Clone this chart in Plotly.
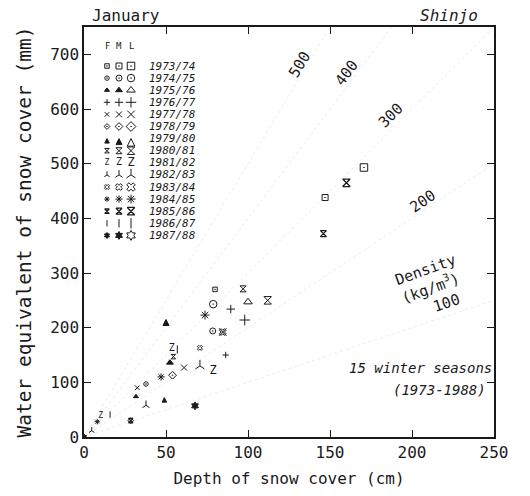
import plotly.graph_objects as go

# Snow survey at Shinjo, January: depth vs. water equivalent for the
# first (F), middle (M) and last (L) survey of each winter season.
seasons = ["1973/74", "1974/75", "1975/76", "1976/77", "1977/78",
           "1978/79", "1979/80", "1980/81", "1981/82", "1982/83",
           "1983/84", "1984/85", "1985/86", "1986/87", "1987/88"]

depth_F = [79.9, 37.8, 31.7, 86.4, 32.5, 28.5, 49.0, 54.5, 10.2, 4.7, 70.7, 8.1, 28.5, 15.9, 0.0]
swe_F = [270, 97, 74, 150, 90, 30, 72, 147, 38, 11.5, 163, 28, 30, 41, 0]
depth_M = [147.0, 78.5, 52.4, 89.5, 61.0, 54.0, 50.0, 97.0, 53.5, 37.8, 84.6, 47.0, 146.0, 56.9, 67.7]
swe_M = [438, 194, 136, 234, 127, 113, 215, 271, 162, 58, 192, 110, 372, 160, 57]
depth_L = [170.7, 78.8, 100.0, 98.0, 84.6, None, None, 112.0, 78.8, 70.7, None, 73.8, 160.0, None, None]
swe_L = [493, 243, 247, 214, 192, None, None, 250, 120, 130, None, 223, 465, None, None]

# marker shape for each season: (F and M, L), and stroke weight
symbols = [("square-open-dot", "square-open-dot"),
           ("circle-open-dot", "circle-open-dot"),
           ("triangle-up", "triangle-up-open"),
           ("cross-thin-open", "cross-thin-open"),
           ("x-thin-open", "x-thin-open"),
           ("diamond-open-dot", "diamond-open-dot"),
           ("arrow-up", "arrow-up-open"),
           ("hourglass-open", "hourglass-open"),
           ("Z", "Z"),
           ("y-up-open", "y-up-open"),
           ("x-open", "x-open"),
           ("asterisk-open", "asterisk-open"),
           ("hourglass-open", "hourglass-open"),
           ("line-ns-open", "line-ns-open"),
           ("hexagram", "hexagram-open")]
strokes = [1, 1, 1, 1, 1, 1, 1, 1, 1, 1, 1, 1, 1.25, 1, 1]

densities = [100, 200, 300, 400, 500]
density_angles = [-18.5, -33.7, -45, -53, -59]
density_label_pos = [(221, 245), (206.7, 432), (186.6, 588), (160, 666), (131.7, 682)]

x_range = [0, 250]
y_range = [0, 750]
sizes = [4.5, 6, 7.5]
text_sizes = [8, 10, 12]

FONT = "DejaVu Sans Mono"
INK = "#1a1a1a"

fig = go.Figure()

# faint lines of constant bulk density: swe(mm) = density * depth(cm) / 100
for d in densities:
    xe = min(x_range[1], y_range[1] * 100 / d)
    fig.add_trace(go.Scatter(x=[0, xe], y=[0, xe * d / 100], mode="lines",
                             line=dict(color="#eeeeee", width=1, dash="dot"),
                             hoverinfo="skip", showlegend=False))


def add_marks(xs, ys, sym, k, lw=1, xaxis="x", yaxis="y"):
    pts = [(x, y) for x, y in zip(xs, ys) if x is not None]
    if not pts:
        return
    px, py = zip(*pts)
    if sym == "Z":
        fig.add_trace(go.Scatter(x=px, y=py, mode="text", text=["Z"] * len(px),
                                 textfont=dict(family=FONT, size=text_sizes[k], color=INK),
                                 xaxis=xaxis, yaxis=yaxis, showlegend=False))
    else:
        fig.add_trace(go.Scatter(x=px, y=py, mode="markers",
                                 marker=dict(symbol=sym, size=sizes[k], color=INK,
                                             line=dict(color=INK, width=lw)),
                                 xaxis=xaxis, yaxis=yaxis, showlegend=False))


for i, (sym, sym_l) in enumerate(symbols):
    add_marks([depth_F[i]], [swe_F[i]], sym, 0, strokes[i])
    add_marks([depth_M[i]], [swe_M[i]], sym, 1, strokes[i])
    add_marks([depth_L[i]], [swe_L[i]], sym_l, 2, strokes[i])

# key in the upper-left corner, drawn on an overlay axis in pixel units
key_cols = [107, 119, 131]
key_row0, key_dy = 66, 12.1
for i, (sym, sym_l) in enumerate(symbols):
    yy = key_row0 + i * key_dy
    for k, xx in enumerate(key_cols):
        add_marks([xx], [yy], sym_l if k == 2 else sym, k, strokes[i],
                  xaxis="x2", yaxis="y2")
    fig.add_annotation(x=147, y=yy, xref="x2", yref="y2", text="<i>%s</i>" % seasons[i],
                       showarrow=False, xanchor="left",
                       font=dict(family=FONT, size=11, color=INK))
for k, lab in enumerate(["F", "M", "L"]):
    fig.add_annotation(x=key_cols[k], y=46, xref="x2", yref="y2", text=lab,
                       showarrow=False, font=dict(family=FONT, size=9, color=INK))

# density labels along the lines
for d, ang, (lx, ly) in zip(densities, density_angles, density_label_pos):
    fig.add_annotation(x=lx, y=ly, text=str(d), showarrow=False, textangle=ang,
                       font=dict(family=FONT, size=15, color=INK))
fig.add_annotation(x=208, y=305, text="Density", showarrow=False, textangle=-20,
                   font=dict(family=FONT, size=15, color=INK))
fig.add_annotation(x=211.5, y=274, text="(kg/m<sup>3</sup>)", showarrow=False, textangle=-20,
                   font=dict(family=FONT, size=15, color=INK))

fig.add_annotation(x=1.0, y=0.145, xref="paper", yref="paper", xanchor="right",
                   text="<i>15 winter seasons</i>", showarrow=False,
                   font=dict(family=FONT, size=14, color=INK))
fig.add_annotation(x=0.985, y=0.09, xref="paper", yref="paper", xanchor="right",
                   text="<i>(1973-1988)</i>", showarrow=False,
                   font=dict(family=FONT, size=14, color=INK))

fig.add_annotation(x=0.015, y=1.0, xref="paper", yref="paper", yanchor="bottom",
                   xanchor="left", text="January", showarrow=False,
                   font=dict(family=FONT, size=16, color=INK))
fig.add_annotation(x=0.965, y=1.0, xref="paper", yref="paper", yanchor="bottom",
                   xanchor="right", text="<i>Shinjo</i>", showarrow=False,
                   font=dict(family=FONT, size=16, color=INK))

axis_common = dict(showgrid=False, zeroline=False, showline=True, linecolor=INK,
                   linewidth=1.5, mirror="ticks", ticks="inside", ticklen=7,
                   tickcolor=INK, tickwidth=1.2,
                   tickfont=dict(family=FONT, size=16, color=INK))

fig.update_layout(
    width=530, height=496,
    margin=dict(l=84, r=36, t=27, b=59),
    paper_bgcolor="white", plot_bgcolor="white",
    showlegend=False,
    xaxis=dict(range=x_range, dtick=50, **axis_common,
               title=dict(text="Depth of snow cover (cm)", standoff=12,
                          font=dict(family=FONT, size=16, color=INK))),
    yaxis=dict(range=y_range, dtick=100, **axis_common,
               title=dict(text="Water equivalent of snow cover (mm)", standoff=13,
                          font=dict(family=FONT, size=19.5, color=INK))),
    xaxis2=dict(overlaying="x", range=[84, 494], visible=False),
    yaxis2=dict(overlaying="y", range=[437, 27], visible=False),
)

fig.write_html("out.html")
